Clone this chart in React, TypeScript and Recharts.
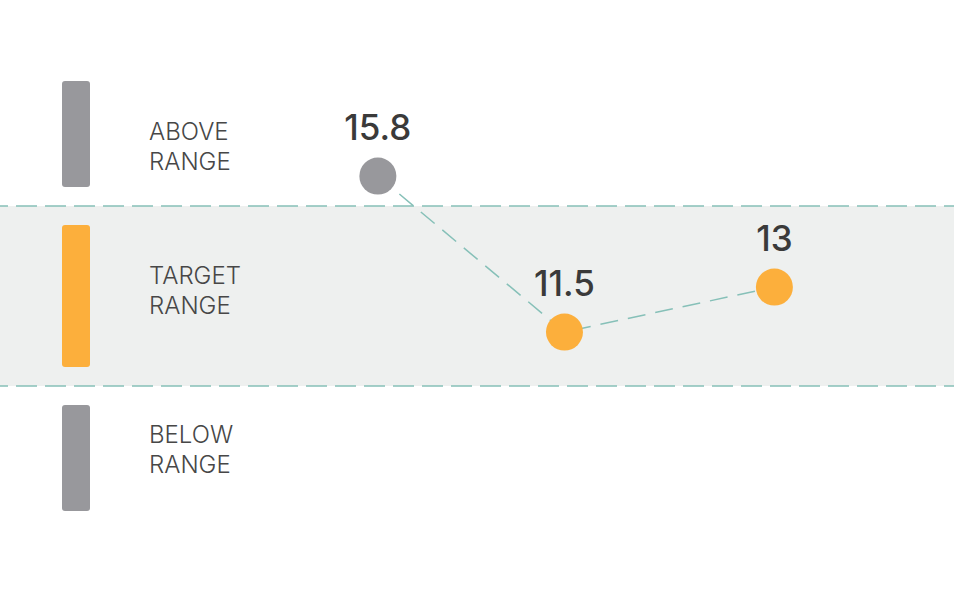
import React from 'react';
import {
  LineChart,
  Line,
  XAxis,
  YAxis,
  ReferenceArea,
  ReferenceLine,
  LabelList,
} from 'recharts';

// readings (week of test) and measured values
const readingWeeks = [4, 12, 21];
const readingValues = [15.8, 11.5, 13];

// below floor, target low, target high, above ceiling
const zoneBreaks = [6, 9.7, 15.7, 16.3];
const zoneNames = ['BELOW RANGE', 'TARGET RANGE', 'ABOVE RANGE'];

const GRAY = '#98989c';
const ORANGE = '#fcaf3c';
const TEAL = '#86c0b8';
const FONT = 'Inter, "Open Sans", sans-serif';

const data = readingWeeks.map((week, i) => ({ week, value: readingValues[i] }));

// each zone gets one unit on the y axis, so out of range readings stay in their band
const zonePos = (v: number) => {
  const [floor, lo, hi, ceil] = zoneBreaks;
  if (v < lo) return 1 - (lo - v) / (lo - floor);
  if (v <= hi) return 1 + (v - lo) / (hi - lo);
  return 2 + (v - hi) / (ceil - hi);
};

const inTarget = (v: number) => v >= zoneBreaks[1] && v <= zoneBreaks[2];

const renderDot = (props: any) => {
  const { cx, cy, payload, index } = props;
  return (
    <circle
      key={`dot-${index}`}
      cx={cx}
      cy={cy}
      r={18.5}
      fill={inTarget(payload.value) ? ORANGE : GRAY}
      stroke="none"
    />
  );
};

// label block nudges per zone (below, target, above)
const textShift = [-9, -6, 12];

const ZoneLegend = (name: string, color: string, shift: number) => (props: any) => {
  const { x, y, height } = props;
  const words = name.split(' ');
  const mid = y + height / 2 + shift;
  return (
    <g>
      <rect x={x + 62} y={y + 19} width={28} height={height - 38} rx={3} fill={color} />
      <text x={x + 149} fontFamily={FONT} fontSize={24} fontWeight={300} fill="#474747">
        {words.map((w, i) => (
          <tspan key={w} x={x + 149} y={mid - 15 + i * 30 + 9}>
            {w}
          </tspan>
        ))}
      </text>
    </g>
  );
};

export default function App() {
  return (
    <div style={{ position: 'absolute', left: 0, top: 0, background: '#fff' }}>
      <LineChart width={954} height={593} data={data} margin={{ top: 0, right: 0, bottom: 0, left: 0 }}>
        <XAxis type="number" dataKey="week" domain={[-12.2, 28.7]} allowDataOverflow hide />
        <YAxis type="number" domain={[-0.15, 3.145]} allowDataOverflow hide />
        <ReferenceArea y1={1} y2={2} fill="#eef0ef" fillOpacity={1} stroke="none" ifOverflow="visible" />
        <ReferenceLine y={1} stroke={TEAL} strokeWidth={1.5} strokeDasharray="21 8" strokeDashoffset={13} />
        <ReferenceLine y={2} stroke={TEAL} strokeWidth={1.5} strokeDasharray="21 8" strokeDashoffset={13} />
        {zoneNames.map((name, i) => (
          <ReferenceArea
            key={name}
            y1={i === 0 ? 0.2 : i}
            y2={i === 2 ? 2.8 : i + 1}
            ifOverflow="visible"
            shape={ZoneLegend(name, i === 1 ? ORANGE : GRAY, textShift[i])}
          />
        ))}
        <Line
          dataKey={(d: any) => zonePos(d.value)}
          stroke={TEAL}
          strokeWidth={1.5}
          strokeDasharray="18 10"
          dot={renderDot}
          activeDot={false}
          isAnimationActive={false}
        >
          <LabelList
            dataKey="value"
            position="top"
            offset={36}
            fill="#3a3a3a"
            fontSize={35}
            fontWeight={500}
            fontFamily={FONT}
          />
        </Line>
      </LineChart>
    </div>
  );
}
